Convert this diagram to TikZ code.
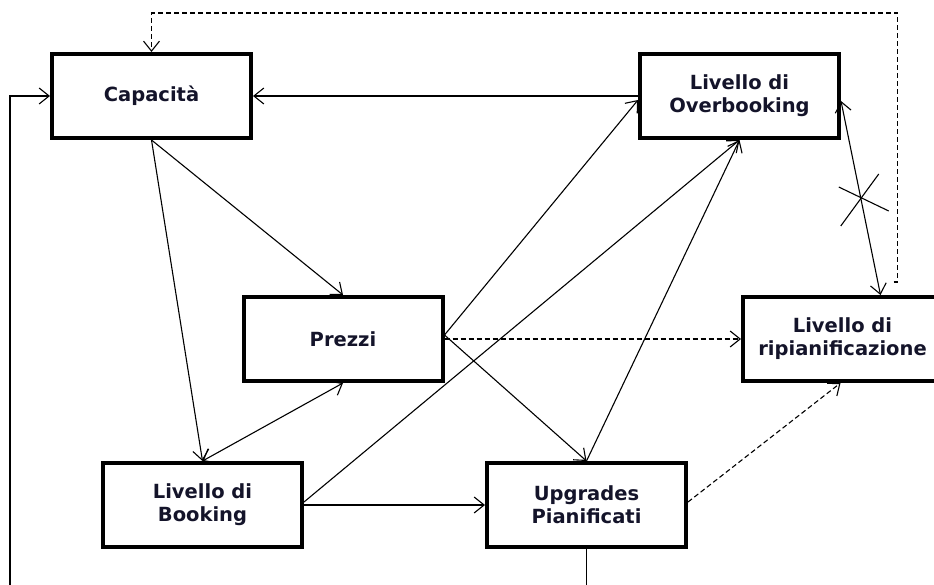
\documentclass[tikz,border=0pt]{standalone}
\usepackage{fontspec}
\setmainfont{DejaVu Sans}
\usetikzlibrary{arrows.meta,calc}
\definecolor{txt}{HTML}{14142A}
\begin{document}
\begin{tikzpicture}[x=1pt,y=-1pt,
  >={Straight Barb[length=10pt,width=16pt]},
  box/.style={draw, line width=4pt, minimum width=199pt, minimum height=84pt,
    inner sep=0pt, align=center, text=txt,
    font=\fontsize{19.5}{23}\selectfont\bfseries},
  conn/.style={line width=1.1pt},
  dconn/.style={line width=1.1pt, dash pattern=on 5pt off 3pt}
]
\useasboundingbox (0,0) rectangle (934,585);
\clip (0,0) rectangle (934,585);
\fill[white] (0,0) rectangle (934,585);

\node[box] (cap) at (151.5,96) {Capacità};
\node[box] (ob) at (739.5,96) {Livello di\\Overbooking};
\node[box] (pr) at (343,339) {Prezzi};
\node[box] (rp) at (842.5,339) {Livello di\\ripianificazione};
\node[box] (bk) at (202.5,505) {Livello di\\Booking};
\node[box] (up) at (586.5,505) {Upgrades\\Pianificati};

% solid connectors
\draw[conn,->] (ob.west) -- (cap.east);
\draw[conn,->] (cap.south) -- (pr.north);
\draw[conn,->] (cap.south) -- (bk.north);
\draw[conn,<->] (bk.north) -- (pr.south);
\draw[conn,->] (bk.east) -- (up.west);
\draw[conn,->] ($(bk.east)+(0,-3)$) -- (ob.south);
\draw[conn,->] ($(pr.east)+(0,-4)$) -- ($(ob.west)+(0,4)$);
\draw[conn,->] ($(pr.east)+(0,-4)$) -- (up.north);
\draw[conn,->] (up.north) -- (ob.south);

% overbooking <-> ripianificazione with cross
\draw[conn,<->] ($(ob.east)+(0,5)$) -- ($(rp.north)+(38,0)$)
  coordinate[midway] (xm);
\draw[conn] ($(xm)+(-22,-11)$) -- ($(xm)+(28,13)$);
\draw[conn] ($(xm)+(18,-24)$) -- ($(xm)+(-20,28)$);

% dashed connectors
\draw[dconn,->] (pr.east) -- (rp.west);
\draw[dconn,->] ($(up.east)+(0,-3)$) -- ($(rp.south)+(-2,0)$);
\coordinate (dq) at ($(rp.north)+(51,-13)$);
\draw[dconn,->] (dq) -- ++(4,0) |- (151.5,13) -- (cap.north);

% feedback loop from Upgrades to Capacita
\coordinate (fb) at (10,600);
\draw[conn,->] (up.south) -- (up.south |- fb) -- (fb) |- (cap.west);
\end{tikzpicture}
\end{document}
